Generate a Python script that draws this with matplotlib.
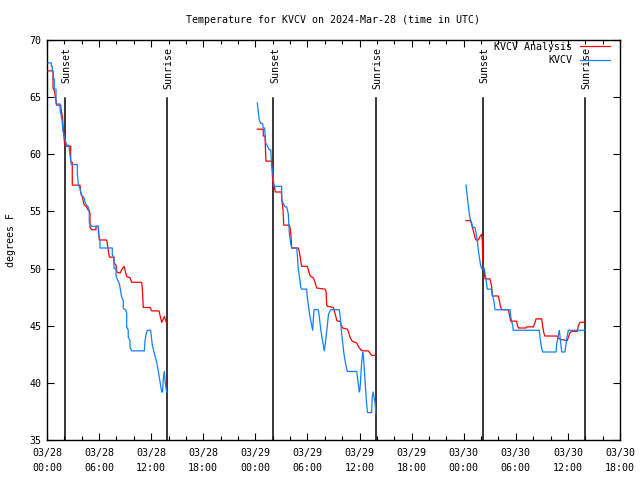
import matplotlib
matplotlib.use("Agg")
import matplotlib.pyplot as plt
import numpy as np
from matplotlib.ticker import FixedLocator

# ---- data (hours since 03/28 00:00 UTC, degrees F) ----
# KVCV observations
obs_t1 = [0.12, 0.50, 0.50, 0.61, 0.61, 0.73, 0.73, 0.84, 0.84, 1.04, 1.04, 1.50, 1.50, 1.73, 1.84, 2.04,
          2.19, 2.27, 2.53, 2.65, 2.80, 3.49, 3.49, 3.61, 3.80, 3.95, 4.26, 4.43, 4.72, 4.87, 4.87, 5.15,
          5.91, 5.91, 6.10, 6.10, 7.52, 7.52, 7.72, 7.72, 7.95, 7.95, 8.12, 8.33, 8.60, 8.79, 8.79, 9.06,
          9.18, 9.18, 9.36, 9.36, 9.56, 9.56, 9.76, 11.21, 11.29, 11.40, 11.55, 11.94, 12.13, 12.32, 12.64,
          12.82, 13.02, 13.21, 13.30, 13.40, 13.51, 13.65, 13.79]
obs_v1 = [68.0, 68.0, 67.7, 67.7, 67.2, 67.2, 66.6, 66.6, 65.7, 65.7, 64.4, 64.4, 63.9, 63.0, 62.0, 61.4,
          61.0, 60.8, 60.8, 59.9, 59.1, 59.1, 58.4, 57.3, 57.0, 56.4, 56.2, 55.7, 55.4, 55.1, 54.0, 53.7,
          53.7, 53.1, 52.5, 51.8, 51.8, 51.2, 51.0, 50.0, 50.0, 49.4, 49.0, 48.7, 47.5, 47.2, 46.5, 46.4,
          46.1, 44.9, 44.6, 44.0, 43.7, 43.1, 42.8, 42.8, 43.7, 44.2, 44.6, 44.6, 43.3, 42.7, 41.8,
          41.0, 40.1, 39.2, 39.2, 40.4, 41.0, 39.8, 39.2]
obs_t2 = [24.22, 24.45, 24.61, 24.84, 24.91, 25.07, 25.19, 25.60, 25.77, 25.88, 26.00, 26.15, 27.03, 27.03,
          27.41, 27.61, 27.79, 27.91, 28.07, 28.18, 28.76, 28.85, 28.95, 29.14, 29.22, 29.34, 29.91, 29.98,
          30.29, 30.60, 30.67, 30.75, 31.25, 31.36, 31.56, 31.94, 32.02, 32.29, 32.42, 32.68, 33.67, 33.75,
          33.98, 34.21, 34.44, 34.59, 35.67, 35.76, 35.97, 36.05, 36.22, 36.36, 36.45, 36.63, 36.78, 36.91,
          37.39, 37.46, 37.57, 37.69, 37.77, 37.89]
obs_v2 = [64.5, 63.0, 62.7, 62.7, 62.3, 62.3, 61.0, 60.4, 60.4, 58.9, 58.6, 57.2, 57.2, 56.0,
          55.4, 55.4, 54.8, 53.1, 52.2, 51.8, 51.8, 51.0, 49.9, 49.0, 48.4, 48.2, 48.2, 47.5,
          45.8, 44.6, 45.5, 46.4, 46.4, 45.8, 44.5, 42.8, 43.2, 45.0, 46.0, 46.4, 46.4, 45.9,
          44.0, 42.5, 41.5, 41.0, 41.0, 40.5, 39.2, 39.4, 41.5, 42.7, 42.3, 40.2, 38.5, 37.4,
          37.4, 38.8, 39.2, 38.6, 38.4, 37.3]
obs_t3 = [48.26, 48.41, 48.53, 48.64, 48.80, 48.92, 49.03, 49.30, 49.42, 49.57, 49.68, 49.80, 49.96, 50.07,
          50.37, 50.45, 50.64, 50.71, 51.22, 51.34, 51.49, 51.60, 53.33, 53.41, 53.64, 53.71, 56.70, 56.78,
          56.98, 57.10, 58.63, 58.71, 58.90, 59.01, 59.17, 59.28, 59.66, 59.78, 59.94, 60.05, 61.97]
obs_v3 = [57.3, 56.3, 55.5, 54.8, 54.2, 54.0, 53.6, 53.6, 53.1, 52.4, 51.6, 51.0, 50.2, 50.0,
          50.0, 49.6, 48.7, 48.2, 48.2, 47.6, 47.1, 46.4, 46.4, 45.8, 45.0, 44.6, 44.6, 44.0,
          43.0, 42.7, 42.7, 43.4, 44.2, 44.6, 43.5, 42.7, 42.7, 43.4, 44.2, 44.6, 44.6]

# KVCV Analysis
ana_t1 = [0.12, 0.69, 0.69, 0.86, 1.12, 1.58, 1.61, 1.79, 1.90, 2.04, 2.19, 2.73, 2.73, 2.91, 2.91, 3.80,
          3.88, 4.07, 4.26, 4.55, 4.76, 4.95, 4.95, 5.15, 5.64, 5.64, 5.91, 6.02, 6.88, 7.18, 7.72, 7.72,
          7.95, 8.06, 8.41, 8.60, 8.87, 8.98, 9.18, 9.56, 9.76, 10.91, 11.00, 11.09, 11.86, 12.06, 12.90,
          13.02, 13.21, 13.40, 13.51, 13.65, 13.79]
ana_v1 = [67.3, 67.3, 65.8, 65.5, 64.3, 64.3, 64.0, 63.2, 62.0, 60.8, 60.7, 60.7, 59.4, 59.3, 57.3, 57.3,
          56.7, 56.3, 55.6, 55.4, 55.1, 54.9, 53.6, 53.4, 53.4, 53.7, 53.7, 52.5, 52.5, 51.0, 51.0, 50.5,
          50.3, 49.7, 49.6, 49.9, 50.2, 49.9, 49.3, 49.2, 48.8, 48.8, 48.0, 46.6, 46.6, 46.3, 46.3,
          45.9, 45.3, 45.6, 45.8, 45.5, 45.2]
ana_t2 = [24.22, 24.91, 24.91, 25.11, 25.16, 25.22, 25.88, 25.97, 26.06, 26.15, 26.30, 26.99, 27.07, 27.19,
          27.27, 27.91, 28.02, 28.14, 28.18, 28.95, 29.06, 29.26, 29.34, 29.98, 30.10, 30.29, 30.37, 30.67,
          30.87, 31.06, 32.02, 32.14, 32.22, 32.29, 32.98, 33.06, 33.37, 33.44, 33.75, 33.83, 34.06, 34.59,
          34.71, 34.90, 35.09, 35.28, 35.67, 35.86, 36.13, 36.36, 37.01, 37.20, 37.39, 37.89]
ana_v2 = [62.2, 62.2, 61.6, 61.6, 60.5, 59.4, 59.4, 58.0, 57.3, 57.3, 56.7, 56.7, 55.9, 55.1,
          53.8, 53.8, 53.5, 52.5, 51.8, 51.8, 51.5, 50.5, 50.2, 50.2, 49.9, 49.4, 49.3, 49.2,
          48.8, 48.3, 48.2, 48.0, 46.8, 46.7, 46.6, 46.4, 45.5, 45.4, 45.4, 45.2, 44.8, 44.7,
          44.5, 44.0, 43.7, 43.6, 43.5, 43.2, 42.9, 42.8, 42.8, 42.6, 42.4, 42.4]
ana_t3 = [48.26, 48.80, 48.92, 49.11, 49.30, 49.42, 49.68, 49.80, 49.96, 50.07, 50.14, 50.18, 50.26, 50.37,
          50.45, 51.02, 51.22, 51.29, 51.98, 52.10, 52.26, 52.37, 53.14, 53.25, 53.41, 54.10, 54.17, 54.29,
          55.17, 55.25, 56.02, 56.22, 56.33, 56.98, 57.10, 57.25, 57.36, 58.71, 58.90, 59.17, 59.94, 60.05,
          60.24, 60.44, 61.08, 61.20, 61.39, 61.97]
ana_v3 = [54.2, 54.2, 53.8, 53.3, 52.7, 52.5, 52.5, 52.7, 52.9, 53.0, 52.4, 51.1, 50.2, 49.6,
          49.1, 49.1, 48.4, 47.6, 47.6, 47.2, 46.6, 46.4, 46.4, 46.0, 45.4, 45.4, 45.1, 44.8,
          44.8, 44.9, 44.9, 45.3, 45.6, 45.6, 44.9, 44.3, 44.1, 44.1, 43.9, 43.8, 43.7, 44.0,
          44.4, 44.5, 44.5, 45.0, 45.3, 45.3]

sunset_t = [2.02, 26.08, 50.21]
sunrise_t = [13.77, 37.89, 61.92]

tick_hours = [0, 6, 12, 18, 24, 30, 36, 42, 48, 54, 60, 66]
tick_labels = ["03/28\n00:00", "03/28\n06:00", "03/28\n12:00", "03/28\n18:00",
               "03/29\n00:00", "03/29\n06:00", "03/29\n12:00", "03/29\n18:00",
               "03/30\n00:00", "03/30\n06:00", "03/30\n12:00", "03/30\n18:00"]
y_ticks = [35, 40, 45, 50, 55, 60, 65, 70]

# ---- style ----
FONT = "DejaVu Sans Mono"
FS = 7.2
plt.rcParams['font.family'] = FONT
plt.rcParams['font.size'] = FS

RED = "#ff0000"
BLUE = "#1080ff"

fig = plt.figure(figsize=(6.4, 4.8), dpi=100)
ax = fig.add_axes([47/640, 40/480, 573/640, 400/480])

for t, v, lab in [(ana_t1, ana_v1, "KVCV Analysis"), (ana_t2, ana_v2, None), (ana_t3, ana_v3, None)]:
    ax.plot(t, v, color=RED, lw=0.9, label=lab, zorder=3)
for t, v, lab in [(obs_t1, obs_v1, "KVCV"), (obs_t2, obs_v2, None), (obs_t3, obs_v3, None)]:
    ax.plot(t, v, color=BLUE, lw=0.9, label=lab, zorder=4)

ax.set_xlim(0, 66)
ax.set_ylim(35, 70)

line_top = 0.855
for tt in sunset_t:
    ax.axvline(tt, ymin=0, ymax=line_top, color="black", lw=1.1, zorder=2)
    ax.text(tt + 0.2, 0.982, "Sunset", rotation=90, ha="center", va="top",
            transform=ax.get_xaxis_transform(), fontsize=FS)
for tt in sunrise_t:
    ax.axvline(tt, ymin=0, ymax=line_top, color="black", lw=1.1, zorder=2)
    ax.text(tt + 0.2, 0.982, "Sunrise", rotation=90, ha="center", va="top",
            transform=ax.get_xaxis_transform(), fontsize=FS)

ax.xaxis.set_major_locator(FixedLocator(tick_hours))
ax.set_xticklabels(tick_labels)
ax.xaxis.set_minor_locator(FixedLocator(np.arange(0, 67, 2)))
ax.yaxis.set_major_locator(FixedLocator(y_ticks))
ax.tick_params(axis="both", which="major", direction="in", length=5, width=0.8,
               top=True, right=True, labelsize=FS, pad=4)
ax.tick_params(axis="x", which="minor", direction="in", length=3, width=0.8, top=True)
ax.tick_params(axis="x", which="major", pad=6)
for lbl in ax.get_xticklabels():
    lbl.set_linespacing(1.6)
for s in ax.spines.values():
    s.set_linewidth(1.0)

ax.set_ylabel("degrees F", fontsize=FS, labelpad=10)
ax.set_title("Temperature for KVCV on 2024-Mar-28 (time in UTC)", fontsize=FS, pad=12)

ax.legend(loc="upper right", bbox_to_anchor=(0.983, 0.995), frameon=False,
          markerfirst=False, handlelength=3.0, handletextpad=0.8, labelspacing=0.35,
          borderpad=0, borderaxespad=0, fontsize=FS)

fig.savefig("out.png", dpi=100)
